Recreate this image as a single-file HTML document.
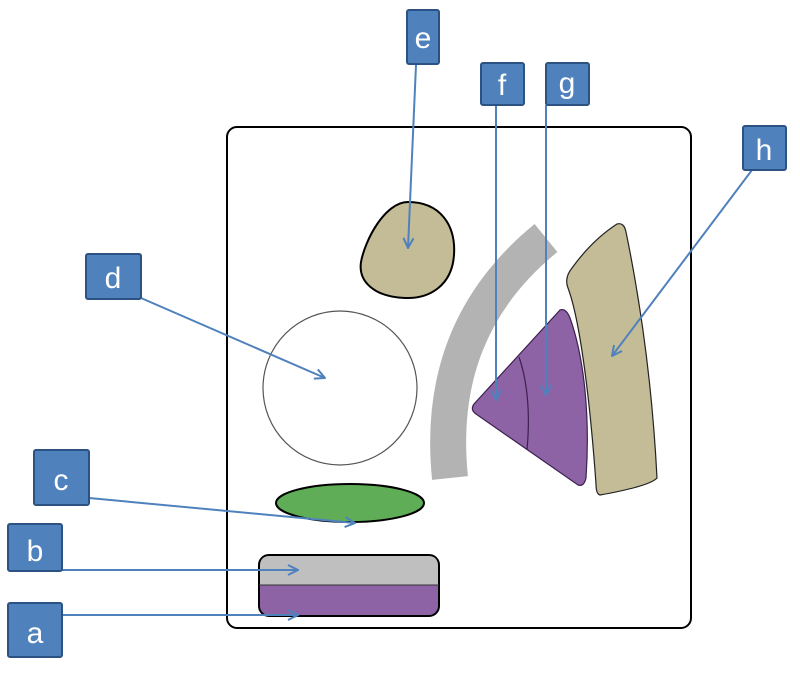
<!DOCTYPE html>
<html><head><meta charset="utf-8"><style>
html,body{margin:0;padding:0;background:#fff;}
svg{display:block;}
</style></head><body>
<svg width="800" height="677" viewBox="0 0 800 677" xmlns="http://www.w3.org/2000/svg">
<defs>
<marker id="ar" viewBox="0 0 12 12" refX="11" refY="6" markerWidth="12" markerHeight="12" markerUnits="userSpaceOnUse" orient="auto">
<path d="M1,1 L11,6 L1,11" fill="none" stroke="#4f81bd" stroke-width="2"/>
</marker>
</defs>
<rect x="227" y="127" width="464" height="501" rx="10" fill="#fff" stroke="#000" stroke-width="2"/>
<!-- gray arc -->
<path d="M450,478 C440,380 470,300 546,238" fill="none" stroke="#b3b3b3" stroke-width="36"/>
<!-- e blob -->
<path d="M408,202 C440,202 456,225 454,255 C452,285 430,299 405,298 C375,297 358,282 361,262 C365,240 385,202 408,202 Z" fill="#c4bc96" stroke="#000" stroke-width="2"/>
<!-- d circle -->
<circle cx="340" cy="388" r="77" fill="#fff" stroke="#555" stroke-width="1.2"/>
<!-- green ellipse -->
<ellipse cx="350" cy="503" rx="74" ry="19" fill="#5fad56" stroke="#000" stroke-width="2"/>
<!-- bottom rect -->
<rect x="259" y="555" width="180" height="61" rx="10" fill="#8e63a5" stroke="#000" stroke-width="2"/>
<path d="M260,585 L438,585 L438,566 Q438,556 428,556 L270,556 Q260,556 260,566 Z" fill="#bfbfbf"/>
<line x1="259" y1="585" x2="439" y2="585" stroke="#333" stroke-width="1"/>
<!-- purple triangle -->
<path d="M560,310 Q566,308 570,318 C585,360 590,420 586,478 Q584,487 578,485 L476,414 Q470,410 474,404 Z" fill="#8e63a5" stroke="#3d2050" stroke-width="1.2"/>
<path d="M519,357 Q532,395 527,450" fill="none" stroke="#3d2050" stroke-width="1.2"/>
<!-- beige -->
<path d="M617,224 Q624,222 626,232 C640,300 652,380 657,478 Q650,486 600,495 Q596,494 596,484 C590,400 580,320 568,288 Q564,278 572,268 C585,250 600,235 617,224 Z" fill="#c4bc96" stroke="#222" stroke-width="1.2"/>
<!-- connectors -->
<g stroke="#4f81bd" stroke-width="2" fill="none" marker-end="url(#ar)">
<line x1="416" y1="65" x2="408" y2="248"/>
<line x1="496" y1="105" x2="496" y2="400"/>
<line x1="546" y1="105" x2="546" y2="395"/>
<line x1="752" y1="170" x2="612" y2="356"/>
<line x1="141" y1="298" x2="325" y2="378"/>
<line x1="89" y1="498" x2="355" y2="523"/>
<line x1="62" y1="570" x2="298" y2="570"/>
<line x1="62" y1="615" x2="298" y2="615"/>
</g>
<!-- labels -->
<g fill="#4f81bd" stroke="#2c5283" stroke-width="2">
<rect x="407" y="10" width="32" height="54" rx="2"/>
<rect x="481" y="63" width="43" height="42" rx="2"/>
<rect x="546" y="63" width="43" height="42" rx="2"/>
<rect x="743" y="126" width="43" height="44" rx="2"/>
<rect x="86" y="254" width="55" height="45" rx="2"/>
<rect x="34" y="450" width="55" height="55" rx="2"/>
<rect x="8" y="524" width="54" height="47" rx="2"/>
<rect x="8" y="603" width="54" height="54" rx="2"/>
</g>
<g fill="#fff" font-family="Liberation Sans, sans-serif" font-size="30" text-anchor="middle">
<text x="423" y="48">e</text>
<text x="502" y="95">f</text>
<text x="567" y="93">g</text>
<text x="764" y="160">h</text>
<text x="113" y="288">d</text>
<text x="61" y="490">c</text>
<text x="35" y="561">b</text>
<text x="35" y="643">a</text>
</g>
</svg>
</body></html>
